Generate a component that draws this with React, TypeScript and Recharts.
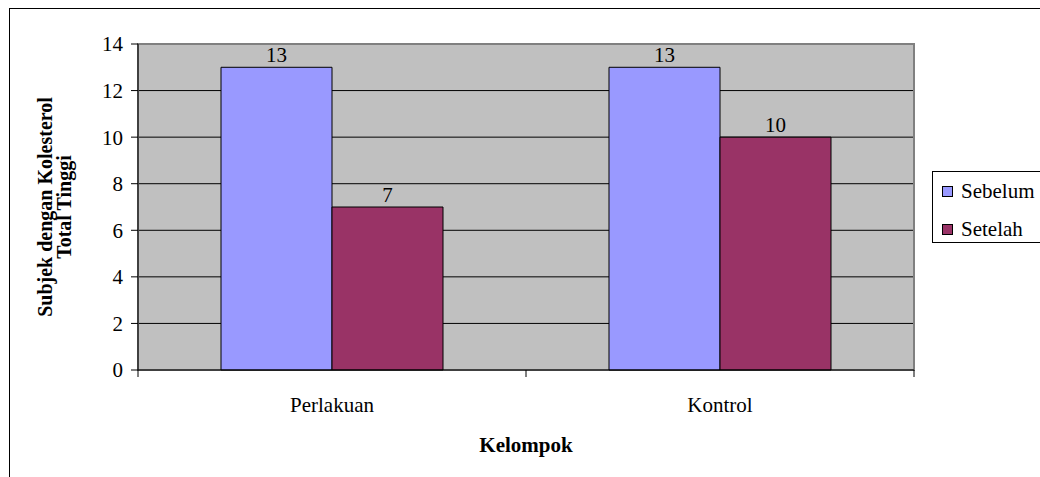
import React from 'react';
import {
  BarChart,
  Bar,
  XAxis,
  YAxis,
  CartesianGrid,
  ReferenceArea,
  LabelList,
  Label,
} from 'recharts';

const categories = ['Perlakuan', 'Kontrol'];
const sebelum = [13, 13];
const setelah = [7, 10];
const yTicks = [0, 2, 4, 6, 8, 10, 12, 14];

const seriesList = [
  { key: 'sebelum', name: 'Sebelum', color: '#9999FF' },
  { key: 'setelah', name: 'Setelah', color: '#993366' },
];

const data = categories.map((kelompok, i) => ({
  kelompok,
  sebelum: sebelum[i],
  setelah: setelah[i],
}));

const FONT = "'Liberation Serif', 'Times New Roman', serif";
const FONT_SIZE = 21;

// category label plus the boundary tick marks between groups
function CategoryTick(props: any) {
  const { x, y, payload, index, visibleTicksCount } = props;
  const half = payload?.offset ?? 0;
  return (
    <g>
      <line x1={x - half} x2={x - half} y1={y} y2={y + 7} stroke="#000" />
      {index === visibleTicksCount - 1 && (
        <line x1={x + half} x2={x + half} y1={y} y2={y + 7} stroke="#000" />
      )}
      <text
        x={x}
        y={y + 42}
        textAnchor="middle"
        fill="#000"
        fontFamily={FONT}
        fontSize={FONT_SIZE}
      >
        {payload.value}
      </text>
    </g>
  );
}

function YTitle(props: any) {
  const vb = props.viewBox || { x: 38, y: 44, width: 100, height: 326 };
  const cy = vb.y + vb.height / 2;
  const x = vb.x + 14;
  return (
    <text
      x={x}
      y={cy}
      transform={`rotate(-90, ${x}, ${cy})`}
      textAnchor="middle"
      fill="#000"
      fontFamily={FONT}
      fontSize={20}
      fontWeight="bold"
    >
      <tspan x={x} dy={0}>
        Subjek dengan Kolesterol
      </tspan>
      <tspan x={x} dy={19}>
        Total Tinggi
      </tspan>
    </text>
  );
}

export default function App() {
  return (
    <div
      style={{
        position: 'fixed',
        left: 0,
        top: 0,
        width: 1040,
        height: 477,
        overflow: 'hidden',
        background: '#fff',
        fontFamily: FONT,
      }}
    >
      <div
        style={{
          position: 'absolute',
          left: 9,
          top: 8,
          width: 1100,
          height: 600,
          border: '1px solid #000',
        }}
      />
      <div style={{ position: 'absolute', left: 0, top: 0 }}>
        <BarChart
          width={1040}
          height={477}
          data={data}
          margin={{ top: 44, right: 126, bottom: 20, left: 38 }}
          barCategoryGap={83}
          barGap={0}
        >
          <CartesianGrid vertical={false} stroke="#000" fill="#C0C0C0" fillOpacity={1} />
          <ReferenceArea y1={0} y2={14} fill="none" stroke="#808080" strokeWidth={2} />
          <XAxis
            dataKey="kelompok"
            interval={0}
            height={87}
            tickSize={0}
            tickMargin={0}
            tickLine={false}
            axisLine={{ stroke: '#000' }}
            tick={<CategoryTick />}
          >
            <Label
              value="Kelompok"
              position="insideBottom"
              offset={5}
              fill="#000"
              fontFamily={FONT}
              fontSize={FONT_SIZE}
              fontWeight="bold"
            />
          </XAxis>
          <YAxis
            width={100}
            domain={[0, 14]}
            ticks={yTicks}
            interval={0}
            tickSize={7}
            tickMargin={8}
            axisLine={{ stroke: '#000' }}
            tickLine={{ stroke: '#000' }}
            tick={{ fill: '#000', fontSize: FONT_SIZE, fontFamily: FONT }}
          >
            <Label content={<YTitle />} />
          </YAxis>
          {seriesList.map((s) => (
            <Bar
              key={s.key}
              dataKey={s.key}
              name={s.name}
              fill={s.color}
              stroke="#000"
              strokeWidth={1}
              isAnimationActive={false}
            >
              <LabelList
                dataKey={s.key}
                position="top"
                offset={5}
                fill="#000"
                fontFamily={FONT}
                fontSize={FONT_SIZE}
              />
            </Bar>
          ))}
        </BarChart>
      </div>
      <div
        style={{
          position: 'absolute',
          left: 932,
          top: 171,
          width: 140,
          height: 70,
          border: '1px solid #000',
          background: '#fff',
          fontSize: FONT_SIZE,
          color: '#000',
        }}
      >
        {seriesList.map((s, i) => (
          <div
            key={s.key}
            style={{
              position: 'absolute',
              left: 9,
              top: 6 + i * 38,
              height: 26,
              display: 'flex',
              alignItems: 'center',
              whiteSpace: 'nowrap',
            }}
          >
            <span
              style={{
                display: 'inline-block',
                width: 9,
                height: 9,
                border: '1px solid #000',
                background: s.color,
                marginRight: 8,
              }}
            />
            <span>{s.name}</span>
          </div>
        ))}
      </div>
    </div>
  );
}
